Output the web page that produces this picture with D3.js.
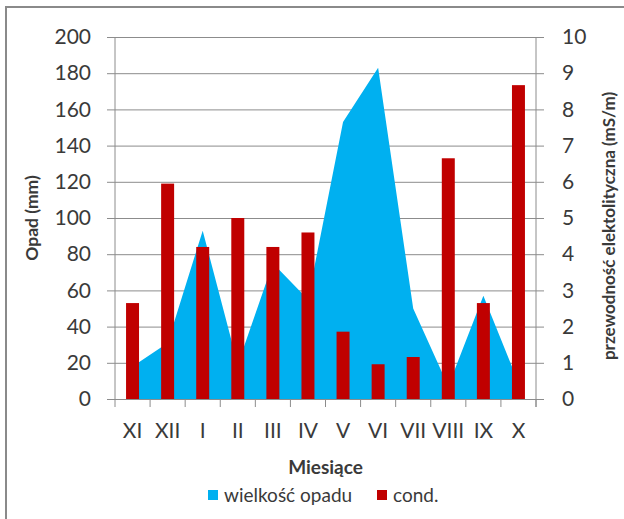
<!DOCTYPE html>
<html>
<head>
<meta charset="utf-8">
<script src="https://cdn.jsdelivr.net/npm/d3@7"></script>
<style>
  body { margin: 0; background: #fff; }
  text { font-family: Lato, "Open Sans", sans-serif; fill: #3a3a3a; }
</style>
</head>
<body>
<div class="container"></div>
<script>
let months = ["XI", "XII", "I", "II", "III", "IV", "V", "VI", "VII", "VIII", "IX", "X"]
let opad = [18, 31, 93, 19, 75, 55, 153, 183, 50, 7, 57, 9]
let cond = [2.65, 5.95, 4.2, 5.0, 4.2, 4.6, 1.86, 0.96, 1.16, 6.65, 2.65, 8.67]
let leftTicks = [0, 20, 40, 60, 80, 100, 120, 140, 160, 180, 200]
let rightTicks = [0, 1, 2, 3, 4, 5, 6, 7, 8, 9, 10]
let seriesNames = ["wielkość opadu", "cond."]

let width = 624
let height = 519
let plotLeft = 115, plotRight = 536, plotTop = 37, plotBottom = 399
let blue = "#00B0F0"
let red = "#C00000"
let gridColor = "#8c8c8c"
let textColor = "#3a3a3a"

let svg = d3.select(".container")
  .append("svg")
  .attr("width", width)
  .attr("height", height)

// chart frame (cropped on right and bottom)
svg.append("rect")
  .attr("x", 6)
  .attr("y", 7)
  .attr("width", width)
  .attr("height", height)
  .attr("fill", "#fff")
  .attr("stroke", "#8a8a8a")
  .attr("stroke-width", 2)

let x = d3.scaleBand().domain(months).range([plotLeft, plotRight])
let yLeft = d3.scaleLinear().domain([0, 200]).range([plotBottom, plotTop])
let yRight = d3.scaleLinear().domain([0, 10]).range([plotBottom, plotTop])

// gridlines + left axis
let leftAxis = svg.append("g")
  .attr("transform", `translate(${plotLeft},0)`)
  .call(d3.axisLeft(yLeft).tickValues(leftTicks).tickSize(-(plotRight - plotLeft)).tickPadding(24))
leftAxis.select(".domain").remove()
leftAxis.selectAll("line").attr("x1", -8).attr("stroke", gridColor)
leftAxis.selectAll("text")
  .attr("font-size", "21px")
  .attr("fill", textColor)
  .attr("font-family", "Lato, sans-serif")

// right axis
let rightAxis = svg.append("g")
  .attr("transform", `translate(${plotRight},0)`)
  .call(d3.axisRight(yRight).tickValues(rightTicks).tickSize(8).tickPadding(18))
rightAxis.select(".domain").remove()
rightAxis.selectAll("line").attr("stroke", gridColor)
rightAxis.selectAll("text")
  .attr("font-size", "21px")
  .attr("fill", textColor)
  .attr("font-family", "Lato, sans-serif")

// area series
let area = d3.area()
  .x(function (d, i) { return x(months[i]) + x.bandwidth() / 2 })
  .y0(yLeft(0))
  .y1(function (d) { return yLeft(d) })

svg.append("path")
  .datum(opad)
  .attr("d", area)
  .attr("fill", blue)

// bars
let barW = x.bandwidth() * 0.37
svg.selectAll(".bar")
  .data(cond)
  .enter()
  .append("rect")
  .attr("class", "bar")
  .attr("x", function (d, i) { return x(months[i]) + x.bandwidth() / 2 - barW / 2 })
  .attr("y", function (d) { return yRight(d) })
  .attr("width", barW)
  .attr("height", function (d) { return yRight(0) - yRight(d) })
  .attr("fill", red)

// vertical axis lines
svg.append("line")
  .attr("x1", plotLeft).attr("x2", plotLeft)
  .attr("y1", plotTop).attr("y2", plotBottom + 8)
  .attr("stroke", gridColor)
svg.append("line")
  .attr("x1", plotRight).attr("x2", plotRight)
  .attr("y1", plotTop).attr("y2", plotBottom + 8)
  .attr("stroke", gridColor)

// x axis
let xAxis = svg.append("g")
  .attr("transform", `translate(0,${plotBottom})`)
  .call(d3.axisBottom(x).tickSize(0).tickPadding(24))
xAxis.select(".domain").attr("stroke", gridColor)
xAxis.selectAll("text")
  .attr("font-size", "21px")
  .attr("fill", textColor)
  .attr("font-family", "Lato, sans-serif")

svg.selectAll(".xtick")
  .data(months)
  .enter()
  .append("line")
  .attr("class", "xtick")
  .attr("x1", function (d) { return x(d) + x.bandwidth() })
  .attr("x2", function (d) { return x(d) + x.bandwidth() })
  .attr("y1", plotBottom)
  .attr("y2", plotBottom + 8)
  .attr("stroke", gridColor)

// axis titles
svg.append("text")
  .attr("transform", `translate(38,${(plotTop + plotBottom) / 2}) rotate(-90)`)
  .attr("text-anchor", "middle")
  .attr("font-size", "17.5px")
  .attr("font-weight", "bold")
  .text("Opad (mm)")

svg.append("text")
  .attr("transform", `translate(615,226) rotate(-90)`)
  .attr("text-anchor", "middle")
  .attr("font-size", "17px")
  .attr("font-weight", "bold")
  .text("przewodność elektolityczna (mS/m)")

svg.append("text")
  .attr("x", (plotLeft + plotRight) / 2)
  .attr("y", 474)
  .attr("text-anchor", "middle")
  .attr("font-size", "19px")
  .attr("font-weight", "bold")
  .text("Miesiące")

// legend
let legendX = [208, 377]
let legendColors = [blue, red]
let legend = svg.selectAll(".legend")
  .data(seriesNames)
  .enter()
  .append("g")
  .attr("class", "legend")
  .attr("transform", function (d, i) { return `translate(${legendX[i]},495)` })
legend.append("rect")
  .attr("x", 0)
  .attr("y", -5)
  .attr("width", 10)
  .attr("height", 10)
  .attr("fill", function (d, i) { return legendColors[i] })
legend.append("text")
  .attr("x", 16)
  .attr("y", 7)
  .attr("font-size", "19px")
  .text(function (d) { return d })
</script>
</body>
</html>
